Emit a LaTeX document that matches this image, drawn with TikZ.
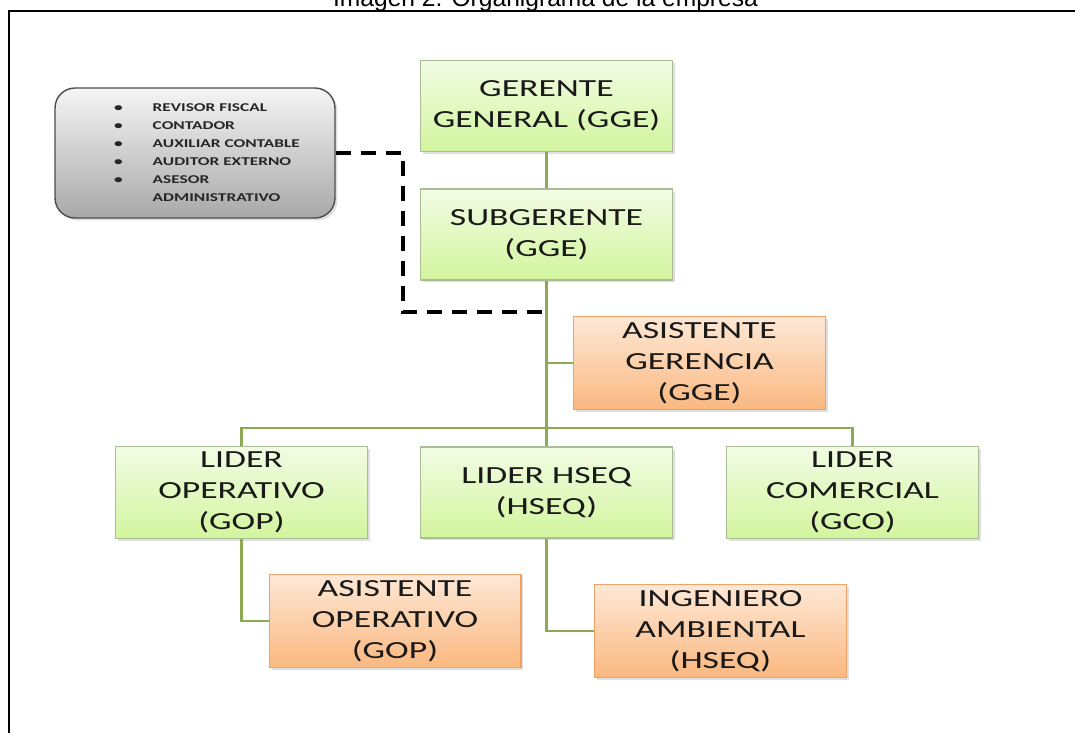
\documentclass[tikz,border=0pt]{standalone}
\usepackage{fontspec}
\setmainfont{Liberation Sans}
\newfontfamily\boxfont[FakeStretch=1.45]{Carlito}
\newfontfamily\notefont[FakeStretch=1.45]{Carlito}
\usetikzlibrary{positioning,calc,shadows}
\definecolor{verdeA}{RGB}{242,252,228}
\definecolor{verdeB}{RGB}{210,245,158}
\definecolor{verdeBorde}{RGB}{172,188,150}
\definecolor{naranjaA}{RGB}{254,232,214}
\definecolor{naranjaB}{RGB}{250,184,128}
\definecolor{naranjaBorde}{RGB}{238,162,104}
\definecolor{grisA}{RGB}{245,245,245}
\definecolor{grisB}{RGB}{168,168,168}
\definecolor{linea}{RGB}{140,170,82}

\begin{document}
\begin{tikzpicture}[x=0.02cm,y=-0.02cm,
    cargo/.style={draw=verdeBorde,line width=0.6pt,top color=verdeA,bottom color=verdeB,
        minimum width=5.04cm,minimum height=1.82cm,align=center,
        font=\boxfont\fontsize{14}{17.6}\selectfont,text=black!90,
        drop shadow={opacity=0.25,shadow xshift=0.05cm,shadow yshift=-0.05cm}},
    asist/.style={cargo,draw=naranjaBorde,top color=naranjaA,bottom color=naranjaB},
    apoyo/.style={draw=black!70,line width=0.8pt,top color=grisA,bottom color=grisB,
        rounded corners=0.4cm,minimum width=5.6cm,minimum height=2.6cm,
        font=\notefont\bfseries\fontsize{6.8}{10.2}\selectfont,text=black!85,
        drop shadow={opacity=0.25,shadow xshift=0.05cm,shadow yshift=-0.05cm}},
    rama/.style={draw=linea,line width=1.7pt},
    punteada/.style={draw=black,line width=2.1pt,dash pattern=on 0.3cm off 0.2cm}]
        \clip (0,0) rectangle (1075,733);
        \node[anchor=base,font=\fontsize{14}{16}\selectfont] (titulo) at (545.5,7) {Imagen 2. Organigrama de la empresa};
        \draw[line width=1.5pt] (1080,11) -- (9,11) -- (9,740);

        \node[cargo] (gge) at (546.5,106) {GERENTE\\GENERAL (GGE)};
        \node[cargo] (sub) at (546.5,234.5) {SUBGERENTE\\(GGE)};
        \node[asist] (asg) at (699.5,363) {ASISTENTE\\GERENCIA\\(GGE)};
        \node[cargo] (lop) at (241.5,492.5) {LIDER\\OPERATIVO\\(GOP)};
        \node[cargo] (lhs) at (546.5,492.5) {LIDER HSEQ\\(HSEQ)};
        \node[cargo] (lco) at (852.5,492.5) {LIDER\\COMERCIAL\\(GCO)};
        \node[asist] (aop) at (395,621) {ASISTENTE\\OPERATIVO\\(GOP)};
        \node[asist] (ing) at (720.5,631) {INGENIERO\\AMBIENTAL\\(HSEQ)};
        \node[apoyo] (junta) at (195,153) {\hspace*{0.48cm}%
            \begin{tabular}{@{}l@{\hspace{0.6cm}}l@{}}
            \textbullet & REVISOR FISCAL\\
            \textbullet & CONTADOR\\
            \textbullet & AUXILIAR CONTABLE\\
            \textbullet & AUDITOR EXTERNO\\
            \textbullet & ASESOR\\
                        & ADMINISTRATIVO
            \end{tabular}};

        \coordinate (bus) at (546.5,428);
        \coordinate (quiebre) at (403,312);
        \draw[rama] (gge) -- (sub);
        \draw[rama] (sub) -- (lhs);
        \draw[rama] (sub.south |- asg.west) -- (asg);
        \draw[rama] (lop.north) |- (bus) -| (lco.north);
        \draw[rama] (lop.south) |- (aop.west);
        \draw[rama] (lhs.south) |- (ing.west);
        \draw[punteada] (junta.east) -| (quiebre) -- (quiebre -| sub.south);
\end{tikzpicture}
\end{document}
